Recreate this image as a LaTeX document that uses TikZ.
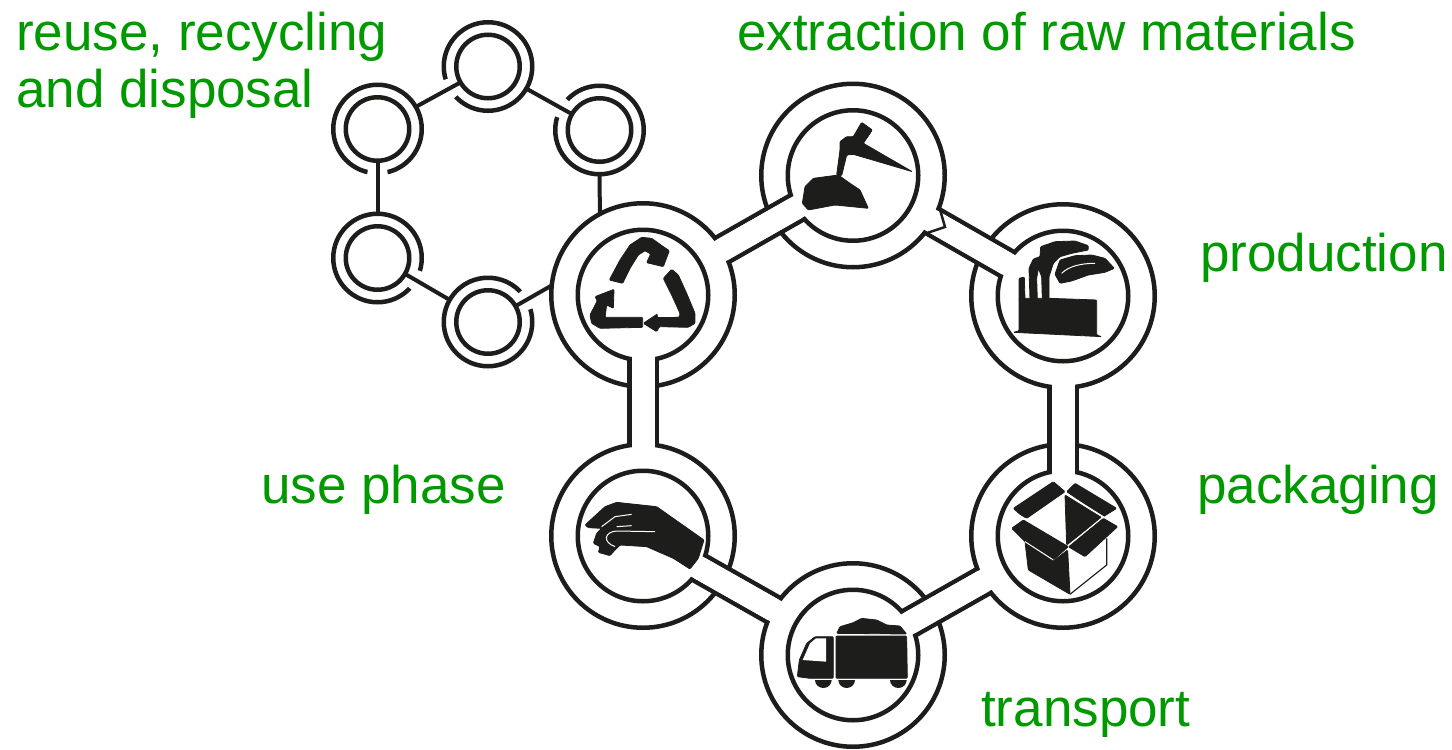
\documentclass[tikz,border=0pt]{standalone}
\usepackage{fontspec}
\setmainfont{Liberation Sans}
\definecolor{lblgreen}{HTML}{009900}
\definecolor{ink}{HTML}{1D1D1B}
\tikzset{
  ring/.style={circle, draw=ink, fill=white, inner sep=0pt, outer sep=0pt, line width=#1},
  bigout/.style={ring=4.5pt, minimum size=183.5pt},
  bigin/.style={ring=4.5pt, minimum size=130.5pt},
  smallout/.style={ring=4.5pt, minimum size=88.5pt},
  smallin/.style={ring=4.5pt, minimum size=63.5pt},
  link/.style={draw=ink, line width=4pt},
  chan/.style={draw=ink, line width=4.5pt, double=white, double distance=23pt},
  chanopen/.style={white, line width=23pt, shorten <=-5pt, shorten >=-5pt},
  icon/.style={fill=ink, draw=ink, line width=.8pt, rounded corners=1pt},
  iconline/.style={white, line width=1pt},
  zoomed/.style={shift={#1}, x=.3333pt, y=-.3333pt},
  lbl/.style={text=lblgreen, font=\fontsize{53}{57}\selectfont, inner sep=0pt, anchor=base west}
}
\begin{document}
\begin{tikzpicture}[x=1pt, y=-1pt]
\useasboundingbox (0,0) rectangle (1452,750);

\foreach \n/\x/\y/\gap in {st/488/66.5/210, sl/377.5/129/270, sb/377.5/258/330, sm/488/322/30, sr/599.5/130/150}{
  \node[smallout] (\n-o) at (\x,\y) {};
  \node[smallin] (\n-i) at (\x,\y) {};
  \draw[white, line width=6.5pt] (\n-o.\gap-13) arc[start angle=\gap-13, end angle=\gap+13, radius=44.25pt];
}
\foreach \n/\x/\y in {recycle/643/295, extract/853/175.5, prod/1063/296, pack/1063/536, truck/853/655, hand/643/536}{
  \node[bigout] (\n-o) at (\x,\y) {};
  \node[bigin] (\n-i) at (\x,\y) {};
}

\draw[link] (sl-o.30) -- (st-i.210);
\draw[link] (st-o.330) -- (sr-i.150);
\draw[link] (sb-o.90) -- (sl-i.270);
\draw[link] (sm-o.150) -- (sb-i.330);
\draw[link] (sm-i.30) -- (recycle-o.174);
\draw[link] (sr-o.270) -- (recycle-o.118);

\foreach \a/\b in {recycle/extract, extract/prod, prod/pack, pack/truck, truck/hand, hand/recycle}{
  \draw[chan] (\a-o) -- (\b-i);
  \draw[chanopen] (\a-o) -- (\b-i);
}
\draw[draw=ink, line width=2.5pt] (extract-o.-20) -- (945,227) -- (927,233);

\begin{scope}[zoomed={(580,230)}]
\fill[icon] (88,150) -- (120,90) -- (150,45) -- (185,22) -- (215,25) -- (250,50) -- (268,62) -- (250,110) -- (200,98) -- (212,72) -- (195,62) -- (175,75) -- (150,115) -- (128,160) -- cycle;
\fill[icon] (250,145) -- (275,118) -- (295,135) -- (320,190) -- (345,250) -- (345,280) -- (325,292) -- (238,290) -- (230,305) -- (190,280) -- (232,252) -- (232,263) -- (298,262) -- (300,250) -- (275,195) -- cycle;
\fill[icon] (188,262) -- (188,292) -- (60,295) -- (35,280) -- (30,255) -- (52,212) -- (45,200) -- (102,178) -- (100,235) -- (80,225) -- (75,262) -- cycle;
\end{scope}

\begin{scope}[zoomed={(795,115)}]
\fill[icon] (22,265) -- (30,215) -- (55,190) -- (130,180) -- (165,205) -- (195,225) -- (220,280) -- (120,270) -- (40,285) -- cycle;
\fill[icon] (125,180) -- (135,105) -- (135,80) -- (155,65) -- (175,65) -- (200,22) -- (232,45) -- (205,85) -- (352,170) -- (175,118) -- (155,120) -- (140,182) -- cycle;
\end{scope}

\begin{scope}[zoomed={(1005,235)}]
\fill[icon] (42,190) -- (135,190) -- (275,195) -- (275,300) -- (290,305) -- (25,292) -- (42,288) -- cycle;
\fill[icon] (42,130) -- (58,126) -- (60,195) -- (42,195) -- cycle;
\fill[icon] (75,195) -- (72,100) -- (85,72) -- (105,65) -- (107,35) -- (150,20) -- (210,18) -- (250,32) -- (250,45) -- (200,55) -- (165,65) -- (145,85) -- (132,125) -- (132,195) -- (112,195) -- (110,125) -- (100,100) -- (95,130) -- (97,195) -- cycle;
\fill[icon] (150,118) -- (165,75) -- (210,62) -- (260,60) -- (300,70) -- (328,100) -- (300,112) -- (250,120) -- (200,138) -- (165,145) -- cycle;
\draw[iconline] (170,115) .. controls (190,95) and (225,85) .. (270,85);
\end{scope}

\begin{scope}[zoomed={(1005,475)}]
\fill[icon] (25,100) -- (145,20) -- (180,50) -- (65,130) -- (45,118) -- cycle;
\fill[icon] (185,50) -- (210,25) -- (335,100) -- (295,125) -- cycle;
\fill[icon] (20,160) -- (55,135) -- (190,215) -- (145,255) -- (60,200) -- cycle;
\fill[icon] (190,215) -- (295,130) -- (338,155) -- (240,245) -- cycle;
\fill[icon] (180,60) -- (290,128) -- (185,210) -- cycle;
\fill[icon] (60,200) -- (145,258) -- (188,225) -- (195,358) -- (70,285) -- cycle;
\draw[ink, line width=1.2pt] (195,358) -- (305,270) -- (305,190);
\draw[iconline] (183,55) -- (295,125) -- (190,212);
\draw[iconline] (60,200) -- (145,255);
\end{scope}

\begin{scope}[zoomed={(790,610)}]
\fill[icon] (22,200) -- (28,150) -- (50,100) -- (75,80) -- (130,80) -- (130,205) -- (60,205) -- cycle;
\fill[white] (38,150) -- (60,100) -- (78,85) -- (108,85) -- (108,155) -- cycle;
\fill[icon] (138,78) -- (350,78) -- (352,205) -- (138,205) -- cycle;
\fill[icon] (140,70) -- (150,50) -- (190,38) -- (215,25) -- (260,30) -- (290,45) -- (330,48) -- (350,72) -- cycle;
\foreach \x in {100,170,325}{
  \fill[ink] (\x-25,210) arc[start angle=180, end angle=0, x radius=25, y radius=24];
}
\end{scope}

\begin{scope}[zoomed={(580,495)}]
\fill[icon] (15,90) -- (75,35) -- (110,22) -- (230,35) -- (372,135) -- (355,190) -- (330,222) -- (280,190) -- (200,155) -- (120,150) -- (105,165) -- (90,182) -- (55,172) -- (60,155) -- (40,145) -- (50,115) -- (65,100) -- (25,98) -- cycle;
\draw[iconline] (65,95) -- (105,65) -- (155,58);
\draw[iconline] (110,95) -- (155,92);
\draw[iconline] (225,110) -- (110,108) .. controls (75,110) and (65,140) .. (105,155);
\end{scope}

\node[lbl, align=left] (reuse) at (16,107) {reuse, recycling\\and disposal};
\node[lbl] (extractlbl) at (737,50) {extraction of raw materials};
\node[lbl] (prodlbl) at (1200,271) {production};
\node[lbl] (packlbl) at (1197,503) {packaging};
\node[lbl] (handlbl) at (261,503) {use phase};
\node[lbl] (trucklbl) at (981,726) {transport};
\end{tikzpicture}
\end{document}
